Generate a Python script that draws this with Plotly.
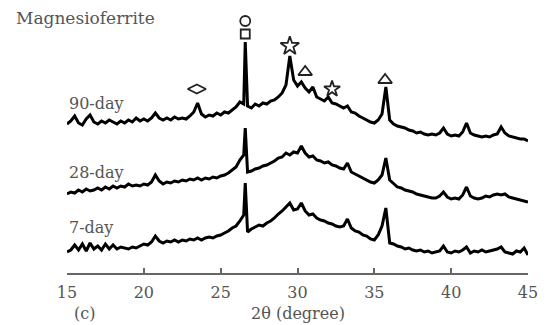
import plotly.graph_objects as go

# 2-theta positions (degree)
two_theta = [15.00, 15.25, 15.50, 15.75, 16.00, 16.25, 16.50, 16.75, 17.00, 17.25,
             17.50, 17.75, 18.00, 18.25, 18.50, 18.75, 19.00, 19.25, 19.50, 19.75,
             20.00, 20.25, 20.50, 20.75, 21.00, 21.25, 21.50, 21.75, 22.00, 22.25,
             22.50, 22.75, 23.00, 23.25, 23.50, 23.75, 24.00, 24.25, 24.50, 24.75,
             25.00, 25.25, 25.50, 25.75, 26.00, 26.25, 26.50, 26.60, 26.75, 27.00,
             27.25, 27.50, 27.75, 28.00, 28.25, 28.50, 28.75, 29.00, 29.25, 29.50,
             29.75, 30.00, 30.25, 30.50, 30.75, 31.00, 31.25, 31.50, 31.75, 32.00,
             32.25, 32.50, 32.75, 33.00, 33.25, 33.50, 33.75, 34.00, 34.25, 34.50,
             34.75, 35.00, 35.25, 35.50, 35.75, 36.00, 36.25, 36.50, 36.75, 37.00,
             37.25, 37.50, 37.75, 38.00, 38.25, 38.50, 38.75, 39.00, 39.25, 39.50,
             39.75, 40.00, 40.25, 40.50, 40.75, 41.00, 41.25, 41.50, 41.75, 42.00,
             42.25, 42.50, 42.75, 43.00, 43.25, 43.50, 43.75, 44.00, 44.25, 44.50,
             44.75, 45.00]

# stacked intensities (a.u., offset included)
day90 = [149, 152, 157, 150, 148, 154, 158, 151, 149, 152,
         150, 153, 151, 149, 152, 150, 153, 151, 155, 152,
         154, 152, 155, 160, 155, 153, 155, 153, 156, 154,
         155, 154, 157, 161, 170, 159, 156, 158, 157, 160,
         158, 161, 160, 163, 166, 171, 169, 231, 167, 165,
         169, 167, 170, 169, 172, 173, 176, 180, 188, 217,
         193, 187, 191, 185, 181, 186, 176, 174, 172, 176,
         170, 169, 167, 165, 167, 161, 160, 157, 155, 153,
         151, 150, 153, 159, 186, 153, 149, 147, 146, 145,
         143, 142, 140, 141, 139, 138, 139, 138, 140, 145,
         139, 137, 138, 137, 141, 150, 140, 138, 137, 136,
         137, 136, 138, 139, 146, 140, 137, 136, 135, 134,
         134, 132]

day28 = [79, 81, 80, 83, 81, 84, 82, 83, 85, 83,
         86, 84, 87, 85, 87, 86, 89, 87, 88, 87,
         89, 88, 91, 98, 92, 89, 91, 90, 92, 91,
         93, 92, 94, 93, 95, 93, 95, 94, 96, 95,
         97, 98, 100, 103, 106, 113, 118, 145, 101, 102,
         104, 105, 107, 108, 110, 112, 115, 116, 120, 118,
         121, 120, 127, 120, 116, 117, 113, 112, 110, 111,
         108, 107, 105, 104, 110, 101, 99, 97, 95, 93,
         91, 90, 93, 98, 115, 93, 89, 86, 85, 83,
         82, 81, 79, 78, 77, 76, 75, 75, 77, 81,
         76, 74, 75, 74, 78, 86, 77, 75, 74, 75,
         77, 76, 78, 79, 78, 79, 76, 75, 74, 73,
         72, 71]

day7 = [21, 23, 28, 23, 29, 22, 30, 24, 27, 23,
        29, 24, 28, 24, 26, 25, 24, 26, 25, 27,
        29, 28, 31, 37, 32, 30, 32, 31, 33, 31,
        33, 32, 34, 33, 35, 33, 35, 36, 35, 37,
        38, 40, 42, 45, 47, 52, 58, 90, 41, 44,
        46, 48, 47, 50, 52, 55, 59, 62, 66, 70,
        63, 64, 70, 62, 58, 59, 55, 53, 52, 50,
        49, 47, 46, 47, 54, 45, 42, 41, 38, 37,
        34, 33, 38, 47, 65, 30, 29, 27, 26, 24,
        25, 23, 22, 23, 21, 22, 20, 21, 22, 27,
        21, 20, 22, 21, 23, 26, 20, 22, 21, 23,
        21, 22, 23, 24, 26, 21, 20, 19, 22, 21,
        25, 18]

series_names = ["90-day", "28-day", "7-day"]
series_values = [day90, day28, day7]
label_heights = [170, 101, 46]

# phase markers: symbol, 2theta, height, size
phase_symbols = ["circle-open", "square-open", "star-open", "triangle-up-open",
                 "star-open", "triangle-up-open", "diamond-wide-open"]
phase_x = [26.6, 26.6, 29.5, 30.5, 32.25, 35.7, 23.45]
phase_y = [252, 239, 227, 201, 184, 193, 184]
phase_size = [10, 9, 14, 12, 12, 12, 13]

tick_vals = [15, 20, 25, 30, 35, 40, 45]
tick_text = ["15", "20", "25", "30", "35", "40", "45"]

FONT = "DejaVu Serif"
TXT = "#555555"

fig = go.Figure()
for name, vals in zip(series_names, series_values):
    fig.add_trace(go.Scatter(x=two_theta, y=vals, mode="lines", name=name,
                             line=dict(color="black", width=3),
                             showlegend=False, hoverinfo="skip"))

for sym, px, py, sz in zip(phase_symbols, phase_x, phase_y, phase_size):
    fig.add_trace(go.Scatter(x=[px], y=[py], mode="markers", showlegend=False,
                             marker=dict(symbol=sym, size=sz, color="#222222",
                                         line=dict(color="#222222", width=1.8)),
                             hoverinfo="skip"))

for name, h in zip(series_names, label_heights):
    fig.add_annotation(x=15.0, y=h, xref="x", yref="y", text=name, showarrow=False,
                       xanchor="left", yanchor="middle",
                       font=dict(family=FONT, size=16, color=TXT))

fig.add_annotation(x=(14 - 67) / 461, y=(273 - 18) / 273, xref="paper", yref="paper",
                   text="Magnesioferrite", showarrow=False, xanchor="left",
                   yanchor="middle", font=dict(family=FONT, size=17, color=TXT))
fig.add_annotation(x=(72 - 67) / 461, y=-(313 - 273) / 273, xref="paper", yref="paper",
                   text="(c)", showarrow=False, xanchor="left", yanchor="middle",
                   font=dict(family=FONT, size=16, color=TXT))
fig.add_annotation(x=(298 - 67) / 461, y=-(313 - 273) / 273, xref="paper", yref="paper",
                   text="2θ (degree)", showarrow=False, xanchor="center", yanchor="middle",
                   font=dict(family=FONT, size=16, color=TXT))

fig.update_layout(
    width=547, height=325,
    margin=dict(l=67, r=19, t=0, b=52),
    paper_bgcolor="white", plot_bgcolor="white",
    xaxis=dict(range=[15, 45], showgrid=False, zeroline=False, showline=True,
               linecolor="#666666", linewidth=1.5, ticks="inside", ticklen=5,
               tickcolor="#666666", tickwidth=1.5, ticklabelstandoff=4,
               tickvals=tick_vals, ticktext=tick_text,
               tickfont=dict(family=FONT, size=16, color=TXT)),
    yaxis=dict(range=[0, 273], visible=False),
)

fig.write_html("out.html", config={"displayModeBar": False},
               post_script="document.body.style.margin='0';document.body.style.overflow='hidden';")
